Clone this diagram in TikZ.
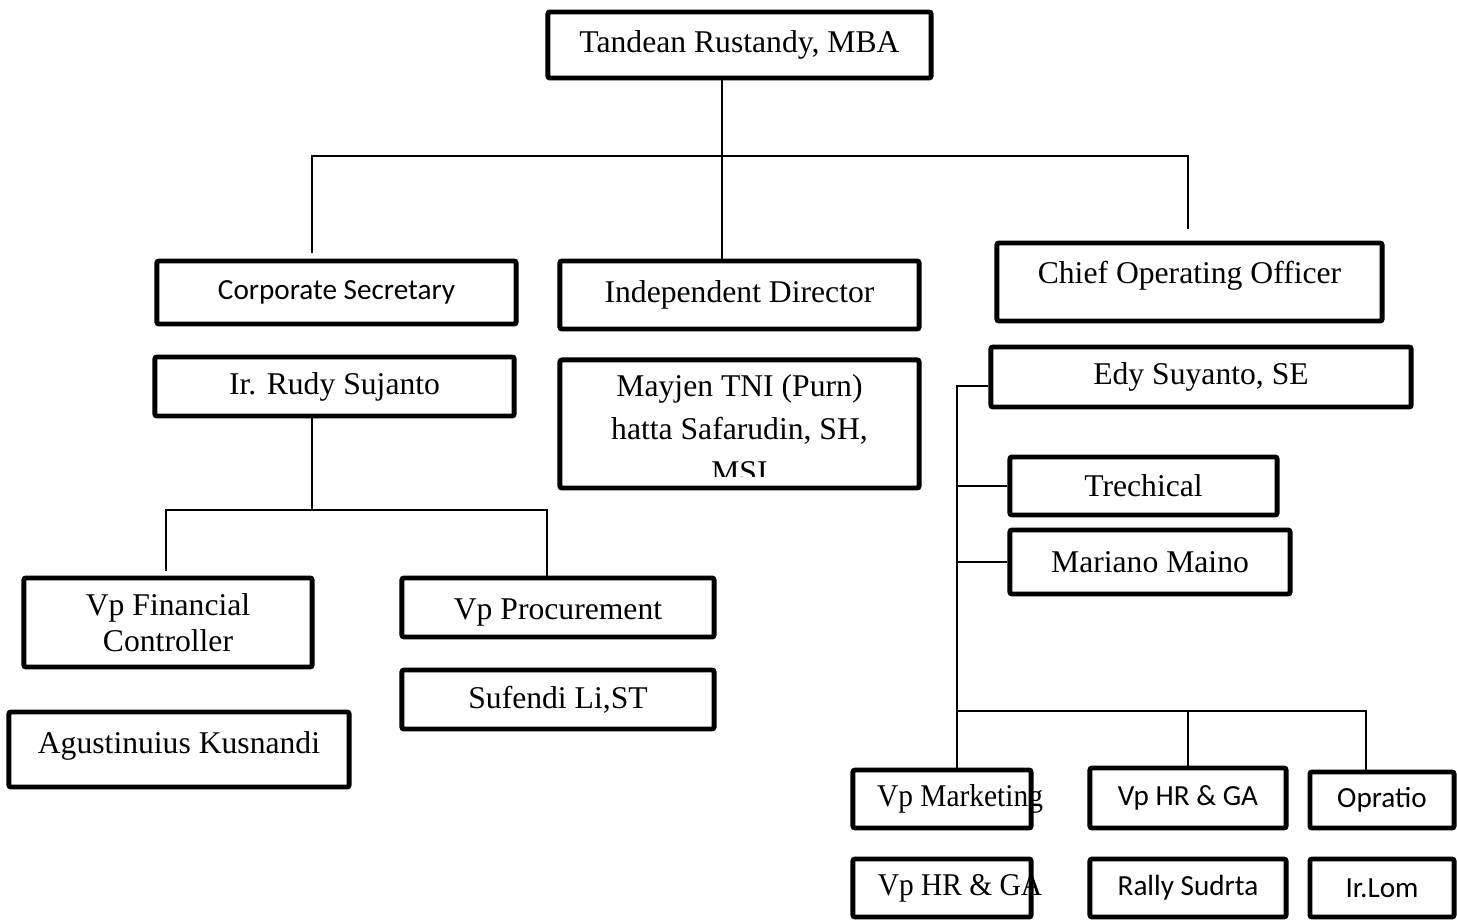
\documentclass[tikz,border=0pt]{standalone}
\usepackage{fontspec}
\setmainfont{Liberation Serif}
\newfontfamily\calibri{Carlito}
\tikzset{
  post/.style={draw, line width=1.4pt, rounded corners=0.6pt, inner sep=0pt,
    align=center, font=\fontsize{9}{10.2}\selectfont},
  postsans/.style={post, font=\calibri\fontsize{8.3}{10}\selectfont},
  link/.style={line width=0.45pt}
}
\newcommand{\narrowtext}[1]{\makebox[0pt]{\hspace*{0.36cm}\scalebox{0.93}[1]{#1}}}
\begin{document}
\begin{tikzpicture}[x=0.01cm, y=-0.01cm]
      \useasboundingbox (0,0) rectangle (1457,922);
      \node[post, minimum width=3.83cm, minimum height=0.66cm] (tandean) at (739.5,45) {Tandean Rustandy, MBA};
      \node[postsans, minimum width=3.59cm, minimum height=0.63cm] (corpsec) at (336.5,292.5) {Corporate Secretary};
      \node[post, minimum width=3.59cm, minimum height=0.68cm] (indep) at (739.5,295) {Independent Director};
      \node[post, minimum width=3.85cm, minimum height=0.78cm, text depth=0.2cm] (coo) at (1189.5,282) {Chief Operating Officer};
      \node[post, minimum width=3.59cm, minimum height=0.59cm] (rudy) at (334.5,386.5) {Ir. Rudy Sujanto};
      \node[post, minimum width=3.59cm, minimum height=1.28cm,
        path picture={
          \clip (path picture bounding box.north west) rectangle ([yshift=0.12cm]path picture bounding box.south east);
          \node[draw=none, inner sep=0pt, align=center,
          font=\fontsize{9}{12.2}\selectfont] (mayjentext)
          at ([yshift=-0.05cm]path picture bounding box.center)
          {Mayjen TNI (Purn)\\hatta Safarudin, SH,\\MSI};}] (mayjen) at (739.5,424) {};
      \node[post, minimum width=4.2cm, minimum height=0.6cm] (edy) at (1201,377) {Edy Suyanto, SE};
      \node[post, minimum width=2.67cm, minimum height=0.58cm] (trech) at (1143.5,486) {Trechical};
      \node[post, minimum width=2.8cm, minimum height=0.64cm] (mariano) at (1150,562) {Mariano Maino};
      \node[post, minimum width=2.88cm, minimum height=0.89cm] (vpfin) at (168,622.5) {Vp Financial\\Controller};
      \node[post, minimum width=3.12cm, minimum height=0.59cm, text height=0.3cm] (vpproc) at (558,607.5) {Vp Procurement};
      \node[post, minimum width=3.12cm, minimum height=0.59cm] (sufendi) at (558,699.5) {Sufendi Li,ST};
      \node[post, minimum width=3.4cm, minimum height=0.75cm, text depth=0.14cm] (agus) at (179,749.5) {Agustinuius Kusnandi};
      \node[post, minimum width=1.78cm, minimum height=0.58cm] (vpmkt) at (942,799) {\narrowtext{Vp Marketing}};
      \node[postsans, minimum width=1.96cm, minimum height=0.6cm] (vphr) at (1188,798) {Vp HR \& GA};
      \node[postsans, minimum width=1.44cm, minimum height=0.56cm] (opratio) at (1382,800) {Opratio};
      \node[post, minimum width=1.78cm, minimum height=0.58cm] (vphrga) at (942,888) {\narrowtext{Vp HR \& GA}};
      \node[postsans, minimum width=1.96cm, minimum height=0.58cm] (rally) at (1188,888) {Rally Sudrta};
      \node[postsans, minimum width=1.44cm, minimum height=0.58cm] (irlom) at (1382,888) {Ir.Lom};
      \coordinate (topbus) at (722,156);
      \coordinate (secdrop) at (312,253);
      \coordinate (coodrop) at (1188,229);
      \coordinate (rudybus) at (312,510);
      \coordinate (findrop) at (166,571);
      \coordinate (procdrop) at (547,510);
      \coordinate (cospine) at (957,386);
      \coordinate (cobus) at (957,711);
      \coordinate (opdrop) at (1366,711);
      \begin{scope}[link]
        \draw (tandean.south -| topbus) to (indep.north -| topbus);
        \draw (secdrop) -- (secdrop |- topbus) -- (coodrop |- topbus) -- (coodrop);
        \draw (rudy.south -| rudybus) to (rudybus);
        \draw (findrop) -- (findrop |- rudybus) -- (procdrop) -- (vpproc.north -| procdrop);
        \draw (edy.west |- cospine) -- (cospine) -- (cobus) -- (opdrop) -- (opratio.north -| opdrop);
        \draw (trech.west -| cospine) to (trech.west);
        \draw (mariano.west -| cospine) to (mariano.west);
        \draw (cobus) to (vpmkt.north -| cobus);
        \draw (vphr.north |- cobus) to (vphr.north);
      \end{scope}
\end{tikzpicture}
\end{document}
